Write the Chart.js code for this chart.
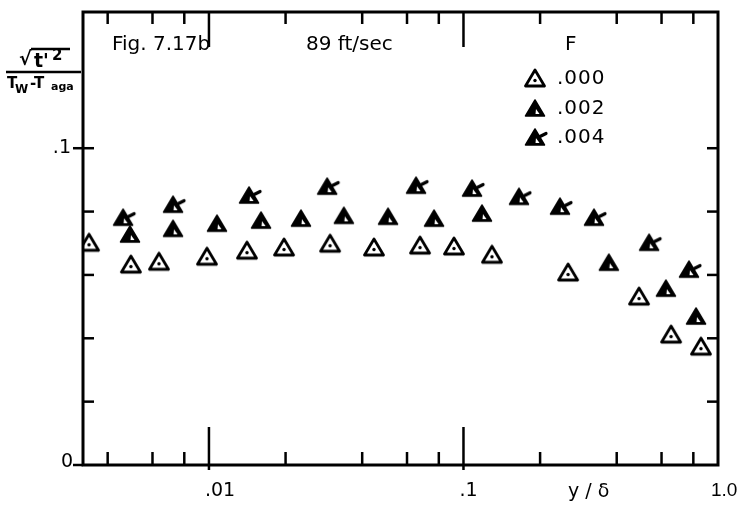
<!DOCTYPE html>
<html>
<head>
<meta charset="utf-8">
<script src="https://cdn.jsdelivr.net/npm/chart.js@4.4.0/dist/chart.umd.min.js"></script>
<style>
  html, body { margin: 0; padding: 0; background: #fff; }
</style>
</head>
<body>
<canvas id="chart" width="738" height="506"></canvas>
<script>
// y/delta and normalized rms temperature
const f000X = [0.00341, 0.00498, 0.00642, 0.00991, 0.01423, 0.0199, 0.0302, 0.0449, 0.0681, 0.0926, 0.1306, 0.260, 0.494, 0.660, 0.865];
const f000Y = [0.0700, 0.0631, 0.0640, 0.0656, 0.0675, 0.0685, 0.0697, 0.0685, 0.0691, 0.0688, 0.0662, 0.0606, 0.0530, 0.0410, 0.0372];

const f002X = [0.00494, 0.00729, 0.01085, 0.01616, 0.0232, 0.0342, 0.0510, 0.0773, 0.1193, 0.376, 0.630, 0.827];
const f002Y = [0.0726, 0.0744, 0.0760, 0.0770, 0.0776, 0.0785, 0.0782, 0.0776, 0.0792, 0.0637, 0.0555, 0.0467];

const f004X = [0.00464, 0.00729, 0.01450, 0.0294, 0.0657, 0.1090, 0.1667, 0.2416, 0.3286, 0.541, 0.776];
const f004Y = [0.0779, 0.0820, 0.0849, 0.0877, 0.0880, 0.0871, 0.0845, 0.0814, 0.0779, 0.0700, 0.0615];

const seriesLabels = [".000", ".002", ".004"];
const xMajor = [0.01, 0.1];
const xMajorLabels = [".01", ".1"];
const xMinor = [0.004, 0.006, 0.008, 0.02, 0.04, 0.06, 0.08, 0.2, 0.4, 0.6, 0.8];
const yTicks = [0.02, 0.04, 0.06, 0.08, 0.1];

const FONT = "'DejaVu Sans', 'Liberation Sans', sans-serif";

// marker images
function makeMarker(kind) {
  const c = document.createElement("canvas");
  c.width = 26; c.height = 22;
  const g = c.getContext("2d");
  g.lineJoin = "round";
  g.beginPath();
  g.moveTo(12, 2); g.lineTo(21.5, 18); g.lineTo(2.5, 18); g.closePath();
  if (kind === "open") {
    g.lineWidth = 2.8; g.strokeStyle = "#000"; g.stroke();
    g.fillStyle = "#000";
    g.beginPath(); g.arc(12, 12.5, 1.7, 0, Math.PI * 2); g.fill();
  } else {
    g.fillStyle = "#000"; g.fill();
    g.lineWidth = 1.5; g.strokeStyle = "#000"; g.stroke();
    g.fillStyle = "#fff";
    g.beginPath(); g.moveTo(13, 11); g.lineTo(16.5, 16); g.lineTo(12.5, 16); g.closePath(); g.fill();
    if (kind === "star") {
      g.strokeStyle = "#000"; g.lineWidth = 3.2; g.lineCap = "round";
      g.beginPath(); g.moveTo(15, 10.5); g.lineTo(23, 6.5); g.stroke();
    }
  }
  return c;
}
const markers = [makeMarker("open"), makeMarker("fill"), makeMarker("star")];

function pts(xs, ys) { return xs.map((v, i) => ({ x: v, y: ys[i] })); }

const frame = {
  id: "frame",
  afterDraw(chart) {
    const { ctx, chartArea: a, scales: { x, y } } = chart;
    const line = (x1, y1, x2, y2) => { ctx.beginPath(); ctx.moveTo(x1, y1); ctx.lineTo(x2, y2); ctx.stroke(); };
    ctx.save();
    ctx.strokeStyle = "#000";
    ctx.lineWidth = 3;
    ctx.strokeRect(a.left, a.top, a.right - a.left, a.bottom - a.top);
    ctx.lineWidth = 2.5;
    xMinor.forEach(v => {
      const px = x.getPixelForValue(v);
      line(px, a.bottom, px, a.bottom - 13);
      line(px, a.top, px, a.top + 12);
    });
    xMajor.forEach(v => {
      const px = x.getPixelForValue(v);
      line(px, a.bottom + 5, px, a.bottom - 38);
      line(px, a.top, px, a.top + 35);
    });
    yTicks.forEach(v => {
      const py = y.getPixelForValue(v);
      line(a.left, py, a.left + 11, py);
      line(a.right, py, a.right - 11, py);
    });
    const p1 = y.getPixelForValue(0.1);
    line(a.left - 10, p1, a.left, p1);
    line(a.left - 10, a.bottom, a.left, a.bottom);

    ctx.fillStyle = "#000";
    ctx.font = "19px " + FONT;
    ctx.textBaseline = "middle";
    // tick labels
    ctx.textAlign = "left";
    xMajor.forEach((v, i) => {
      ctx.fillText(xMajorLabels[i], x.getPixelForValue(v) - 4, a.bottom + 26);
    });
    ctx.fillText("y / \u03B4", 568, a.bottom + 27);
    ctx.font = "19px 'Liberation Sans', sans-serif";
    ctx.fillText("1.0", a.right - 7, a.bottom + 26);
    ctx.font = "19px " + FONT;
    ctx.textAlign = "right";
    ctx.fillText(".1", a.left - 12, p1);
    ctx.fillText("0", a.left - 10, a.bottom - 3);

    // annotations
    ctx.textAlign = "left";
    ctx.font = "20px " + FONT;
    ctx.fillText("Fig. 7.17b", 112, 45);
    ctx.fillText("89 ft/sec", 306, 45);
    ctx.fillText("F", 565, 45);
    ctx.letterSpacing = "1px";
    const rows = [79, 109, 138];
    rows.forEach((ry, i) => {
      const m = markers[i];
      ctx.drawImage(m, 536 - m.width / 2, ry - m.height / 2);
      ctx.fillText(seriesLabels[i], 557, ry);
    });
    ctx.letterSpacing = "0px";

    // y-axis title as a fraction
    ctx.font = "bold 19px " + FONT;
    ctx.fillText("\u221A", 19, 60);
    ctx.lineWidth = 2.5;
    line(31, 49, 70, 49);
    ctx.fillText("t'", 34, 62);
    ctx.font = "bold 15px " + FONT;
    ctx.fillText("2", 52, 56);
    line(6, 72, 81, 72);
    ctx.font = "bold 15px " + FONT;
    ctx.fillText("T", 7, 84);
    ctx.font = "bold 12px " + FONT;
    ctx.fillText("W", 15, 90);
    ctx.font = "bold 15px " + FONT;
    ctx.fillText("-T", 30, 84);
    ctx.font = "bold 11px " + FONT;
    ctx.fillText("aga", 51, 87);
    ctx.restore();
  }
};

new Chart(document.getElementById("chart"), {
  type: "scatter",
  data: {
    datasets: [
      { label: seriesLabels[0], data: pts(f000X, f000Y), pointStyle: markers[0] },
      { label: seriesLabels[1], data: pts(f002X, f002Y), pointStyle: markers[1] },
      { label: seriesLabels[2], data: pts(f004X, f004Y), pointStyle: markers[2] }
    ]
  },
  options: {
    responsive: false,
    animation: false,
    layout: { padding: { left: 83, right: 20, top: 12, bottom: 41 } },
    plugins: { legend: { display: false }, tooltip: { enabled: false } },
    scales: {
      x: { type: "logarithmic", min: 0.0032, max: 1.0, display: false },
      y: { type: "linear", min: 0, max: 0.143, display: false }
    }
  },
  plugins: [frame]
});
</script>
</body>
</html>
